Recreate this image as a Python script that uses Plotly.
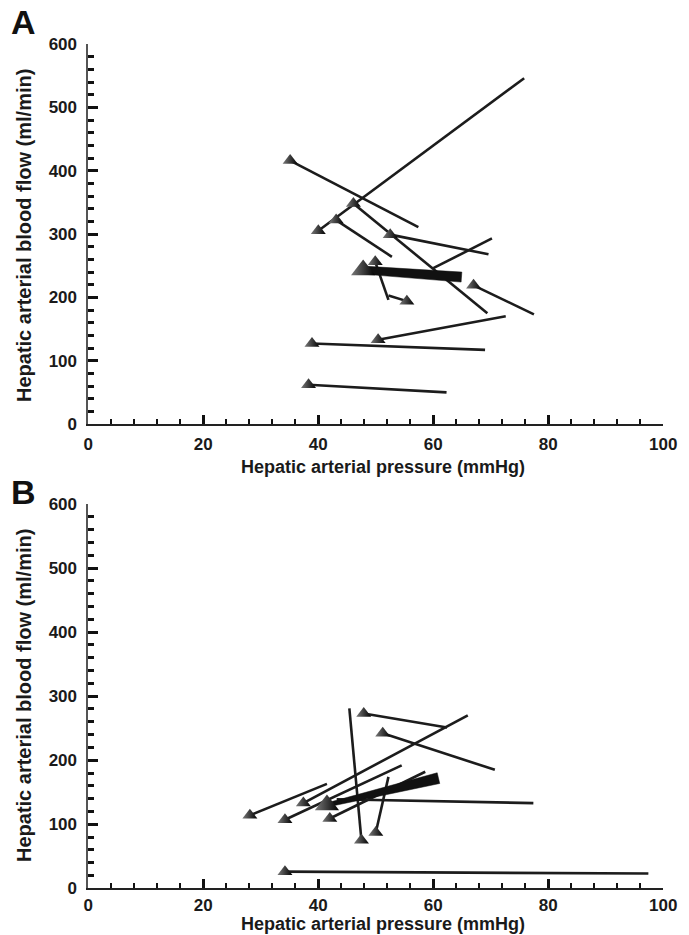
import math
import plotly.graph_objects as go

# ---------------- Data ----------------
# Panel A: each subject = triangle point (x0, y0) joined by a line to (x1, y1)
A_x0 = [35.1, 46.1, 43.1, 40.0, 52.5, 49.9, 55.4, 60.0, 67.0, 50.4, 38.9, 38.3]
A_y0 = [416, 348, 322, 305, 299, 256, 194, 246, 219, 133, 127, 62]
A_x1 = [57.4, 69.4, 52.8, 75.8, 69.6, 52.2, 52.2, 70.2, 77.5, 72.6, 69.0, 62.3]
A_y1 = [311, 175, 264, 546, 268, 196, 203, 293, 173, 170, 117, 50]
A_show = [1, 1, 1, 1, 1, 1, 1, 0, 1, 1, 1, 1]
A_mean_x = [47.8, 64.9]
A_mean_y = [243, 232]

# Panel B
B_x0 = [47.9, 51.2, 37.4, 28.1, 34.2, 42.0, 47.5, 50.0, 43.2, 34.2]
B_y0 = [273, 242, 133, 114, 107, 109, 75, 87, 139, 26]
B_x1 = [62.4, 70.7, 66.0, 41.5, 54.5, 58.6, 45.4, 52.2, 77.4, 97.4]
B_y1 = [251, 185, 270, 163, 192, 182, 281, 174, 133, 23]
B_show = [1, 1, 1, 1, 1, 1, 1, 1, 0, 1]
B_mean_x = [41.5, 60.9]
B_mean_y = [130, 172]

x_ticks = [0, 20, 40, 60, 80, 100]
y_ticks = [0, 100, 200, 300, 400, 500, 600]

x_title = "Hepatic arterial pressure (mmHg)"
y_title = "Hepatic arterial blood flow (ml/min)"
panel_labels = ["A", "B"]

# ---------------- Figure ----------------
W, H = 689, 935
FONT = "Liberation Sans, Arial, sans-serif"
LINE_COL = "#1c1c1c"
X_RANGE = [0, 100]
Y_RANGE = [0, 600]
X_PX = [88.3, 663.3]
A_PX = [424, 44]
B_PX = [888.3, 504]

fig = go.Figure()


def tapered(mx, my, w0, w1, ypx):
    sx = (X_PX[1] - X_PX[0]) / (X_RANGE[1] - X_RANGE[0])
    sy = (ypx[0] - ypx[1]) / (Y_RANGE[1] - Y_RANGE[0])
    dx = (mx[1] - mx[0]) * sx
    dy = (my[1] - my[0]) * sy
    L = math.hypot(dx, dy)
    nx, ny = -dy / L, dx / L
    ox0, oy0 = nx * w0 / 2 / sx, ny * w0 / 2 / sy
    ox1, oy1 = nx * w1 / 2 / sx, ny * w1 / 2 / sy
    px = [mx[0] + ox0, mx[1] + ox1, mx[1] - ox1, mx[0] - ox0, mx[0] + ox0]
    py = [my[0] + oy0, my[1] + oy1, my[1] - oy1, my[0] - oy0, my[0] + oy0]
    return px, py


TRI = dict(symbol="triangle-up", color="#7a7a7a",
           gradient=dict(type="horizontal", color="#000000"),
           line=dict(width=0))


def add_panel(xa, ya, x0, y0, x1, y1, show, mx, my, w0, w1, ypx):
    for i in range(len(x0)):
        fig.add_trace(go.Scatter(
            x=[x0[i], x1[i]], y=[y0[i], y1[i]], mode="lines",
            line=dict(color=LINE_COL, width=2.6),
            xaxis=xa, yaxis=ya, showlegend=False, hoverinfo="skip"))
    sx = [x0[i] for i in range(len(x0)) if show[i]]
    sy = [y0[i] for i in range(len(y0)) if show[i]]
    fig.add_trace(go.Scatter(
        x=sx, y=sy, mode="markers", marker=dict(size=13, **TRI),
        xaxis=xa, yaxis=ya, showlegend=False, hoverinfo="skip"))
    px, py = tapered(mx, my, w0, w1, ypx)
    fig.add_trace(go.Scatter(
        x=px, y=py, mode="lines", fill="toself", fillcolor="#111111",
        line=dict(color="#111111", width=0.5),
        xaxis=xa, yaxis=ya, showlegend=False, hoverinfo="skip"))
    fig.add_trace(go.Scatter(
        x=[mx[0]], y=[my[0]], mode="markers", marker=dict(size=21, **TRI),
        xaxis=xa, yaxis=ya, showlegend=False, hoverinfo="skip"))


add_panel("x", "y", A_x0, A_y0, A_x1, A_y1, A_show, A_mean_x, A_mean_y, 8, 10, A_PX)
add_panel("x2", "y2", B_x0, B_y0, B_x1, B_y1, B_show, B_mean_x, B_mean_y, 4, 11, B_PX)

xdom = [X_PX[0] / W, X_PX[1] / W]
ydomA = [1 - A_PX[0] / H, 1 - A_PX[1] / H]
ydomB = [1 - B_PX[0] / H, 1 - B_PX[1] / H]


def tickfont(sz):
    return dict(family=FONT, size=sz, color="#1a1a1a", weight="bold")


def xaxis_cfg(anchor, standoff):
    return dict(domain=xdom, anchor=anchor, range=X_RANGE, tickvals=x_ticks,
                ticks="inside", ticklen=9, tickwidth=2.6, tickcolor="#111",
                showline=True, linecolor="#222", linewidth=2,
                showgrid=False, zeroline=False, tickfont=tickfont(17),
                ticklabelstandoff=standoff, automargin=False,
                minor=dict(dtick=4, tick0=0, ticks="inside", ticklen=5,
                           tickwidth=2.4, tickcolor="#111", showgrid=False))


def yaxis_cfg(anchor, dom):
    return dict(domain=dom, anchor=anchor, range=Y_RANGE, tickvals=y_ticks,
                ticks="inside", ticklen=10, tickwidth=2.8, tickcolor="#111",
                showline=True, linecolor="#555", linewidth=1.8,
                showgrid=False, zeroline=False, tickfont=tickfont(17),
                ticklabelstandoff=6, automargin=False,
                minor=dict(dtick=20, tick0=0, ticks="inside", ticklen=6,
                           tickwidth=2.6, tickcolor="#111", showgrid=False))


annots = []
for lab, ytop, xt_y, yt_c in [(panel_labels[0], 22, 467, 236),
                              (panel_labels[1], 492, 924, 696)]:
    annots.append(dict(text=f"<b>{lab}</b>", x=23 / W, y=1 - ytop / H,
                       xref="paper", yref="paper", showarrow=False,
                       xanchor="center", yanchor="middle",
                       font=dict(family=FONT, size=34, color="#111")))
    annots.append(dict(text=f"<b>{x_title}</b>", x=383 / W,
                       y=1 - xt_y / H, xref="paper", yref="paper",
                       showarrow=False, xanchor="center", yanchor="middle",
                       font=dict(family=FONT, size=18, color="#1a1a1a")))
    annots.append(dict(text=f"<b>{y_title}</b>", x=24 / W, y=1 - yt_c / H,
                       xref="paper", yref="paper", showarrow=False,
                       textangle=-90, xanchor="center", yanchor="middle",
                       font=dict(family=FONT, size=20, color="#1a1a1a")))

fig.update_layout(
    width=W, height=H, margin=dict(l=0, r=0, t=0, b=0),
    paper_bgcolor="white", plot_bgcolor="white",
    xaxis=xaxis_cfg("y", 4), yaxis=yaxis_cfg("x", ydomA),
    xaxis2=xaxis_cfg("y2", 0), yaxis2=yaxis_cfg("x2", ydomB),
    annotations=annots, showlegend=False,
)

fig.write_html("out.html")
